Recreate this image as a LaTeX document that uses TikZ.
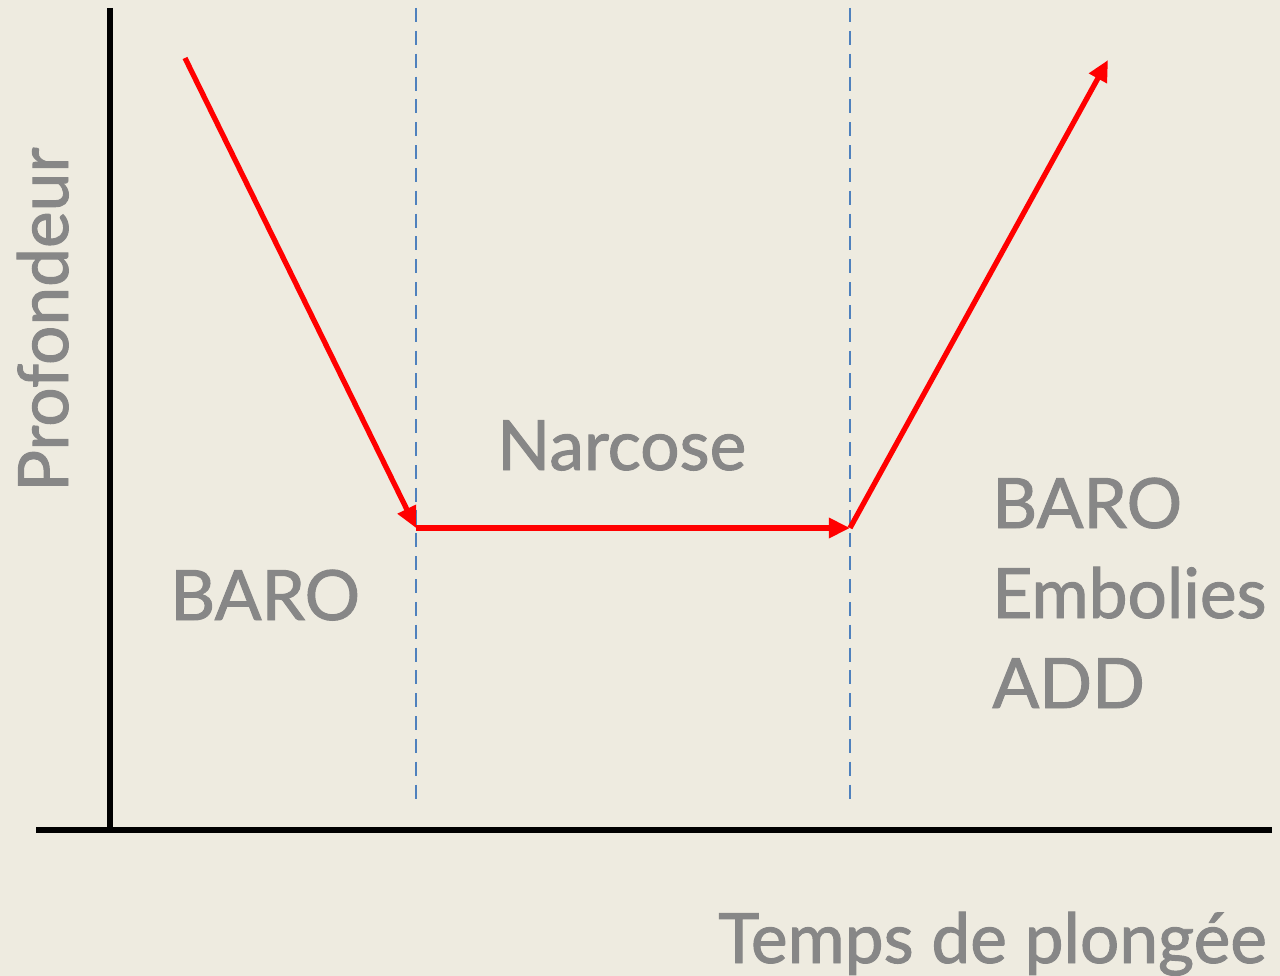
\documentclass[tikz,border=0pt]{standalone}
\usepackage{fontspec}
\setmainfont{Lato}
\newfontfamily\labelfont{Lato}[FakeBold=1.4]
\usepackage{tikz}
\usetikzlibrary{arrows.meta}

\definecolor{paper}{HTML}{EEEBE0}
\definecolor{labelgray}{HTML}{878787}
\definecolor{guideblue}{HTML}{4F81BD}

\tikzset{
	axis/.style={draw=black, line width=3.4pt},
	guide/.style={draw=guideblue, line width=0.9pt, dash pattern=on 8pt off 5pt},
	profile/.style={draw=red, line width=3pt, -{Triangle[length=12pt,width=11pt]}},
	lbl/.style={text=labelgray, font=\labelfont\fontsize{39.5}{40}\selectfont, inner sep=0pt, anchor=base west}
}

\begin{document}
\begin{tikzpicture}[x=0.02cm, y=-0.02cm]
	\useasboundingbox[fill=paper] (0,0) rectangle (1280,976);

	% axes
	\coordinate (ytop) at (110,8);
	\coordinate (ybot) at (110,830);
	\coordinate (xl) at (36,830);
	\coordinate (xr) at (1272,830);
	\path[axis] (ytop) -- (ybot);
	\path[axis] (xl) -- (xr);

	% phase limits
	\coordinate (g1t) at (416,8);
	\coordinate (g1b) at (416,805);
	\coordinate (g2t) at (850,8);
	\coordinate (g2b) at (850,805);
	\path[guide] (g1t) -- (g1b);
	\path[guide] (g2t) -- (g2b);

	% dive profile
	\coordinate (start) at (185,58);
	\coordinate (bottom1) at (416,528);
	\coordinate (bottom2) at (850,528);
	\coordinate (surface) at (1108,60);
	\path[profile] (start) -- (bottom1);
	\path[profile] (bottom1) -- (bottom2);
	\path[profile] (bottom2) -- (surface);

	% labels
	\node[lbl] (narc) at (497,470){Narcose};
	\node[lbl] (baro1) at (170,620){BARO};
	\node[lbl] (baro2) at (992,528){BARO};
	\node[lbl] (embo) at (992,618){Embolies};
	\node[lbl] (add) at (992,708){ADD};
	\node[lbl] (temps) at (718,963){Temps de plongée};
	\node[lbl, rotate=90] (prof) at (68,492){Profondeur};
\end{tikzpicture}
\end{document}
